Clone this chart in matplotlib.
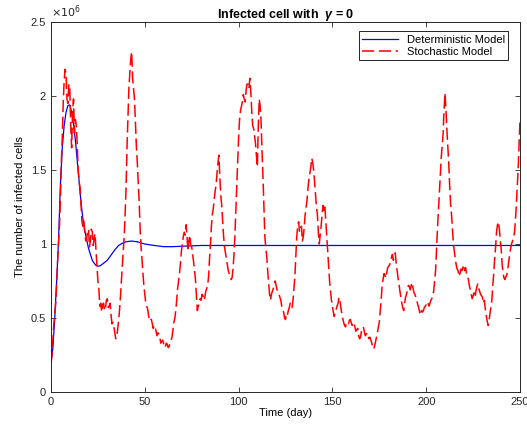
import numpy as np
import matplotlib
matplotlib.use('Agg')
import matplotlib.pyplot as plt
from matplotlib.ticker import FuncFormatter

plt.rcParams['font.family'] = ['Liberation Sans', 'DejaVu Sans']
plt.rcParams['mathtext.fontset'] = 'custom'
plt.rcParams['mathtext.it'] = 'Liberation Sans:italic:bold'

# deterministic model (x1e6 cells)
det_day = [0, 1, 2, 3, 4, 5, 6, 7, 8, 9, 10, 11, 12, 13, 14, 15, 16, 17, 18, 19,
           20, 21, 22, 23, 24, 25, 26, 27, 28, 30, 32, 34, 36, 38, 40, 43, 46,
           50, 55, 60, 65, 70, 80, 100, 250]
det_val = [0.20, 0.30, 0.50, 0.75, 1.02, 1.40, 1.65, 1.80, 1.89, 1.935, 1.94,
           1.89, 1.81, 1.70, 1.56, 1.42, 1.28, 1.17, 1.09, 1.03, 0.97, 0.93,
           0.89, 0.87, 0.855, 0.85, 0.852, 0.86, 0.87, 0.89, 0.925, 0.96, 0.99,
           1.005, 1.015, 1.02, 1.015, 1.0, 0.99, 0.982, 0.982, 0.985, 0.99,
           0.99, 0.99]

# stochastic model, value at each whole day (x1e6 cells)
sto_val = [0.19, 0.35, 0.53, 0.72, 1.00, 1.30, 1.72, 2.10, 2.15, 1.95,
           2.05, 1.65, 1.98, 1.84, 1.66, 1.42, 1.26, 1.12, 1.08, 1.03,
           1.10, 1.02, 1.08, 1.04, 0.95, 0.75, 0.58, 0.54, 0.60, 0.56,
           0.63, 0.58, 0.52, 0.47, 0.40, 0.37, 0.48, 0.64, 0.85, 1.05,
           1.38, 1.85, 2.15, 2.30, 2.05, 1.82, 1.55, 1.28, 0.98, 0.80,
           0.66, 0.58, 0.52, 0.49, 0.46, 0.45, 0.41, 0.40, 0.37, 0.34,
           0.33, 0.31, 0.32, 0.31, 0.35, 0.42, 0.50, 0.62, 0.75, 0.87,
           1.00, 1.08, 1.13, 0.95, 1.06, 0.98, 0.88, 0.76, 0.55, 0.60,
           0.62, 0.65, 0.64, 0.70, 0.78, 1.00, 1.20, 1.30, 1.40, 1.55,
           1.45, 1.26, 1.05, 0.94, 0.86, 0.80, 0.76, 0.83, 1.05, 1.40,
           1.72, 1.90, 1.96, 1.98, 2.04, 2.08, 2.12, 1.90, 1.78, 1.68,
           1.52, 1.98, 1.82, 1.45, 1.05, 0.92, 0.74, 0.62, 0.68, 0.72,
           0.72, 0.68, 0.64, 0.58, 0.54, 0.49, 0.52, 0.57, 0.59, 0.62,
           0.78, 1.05, 1.15, 1.10, 1.02, 1.12, 1.25, 1.38, 1.48, 1.58,
           1.50, 1.33, 1.20, 1.00, 1.12, 1.26, 1.25, 1.04, 0.84, 0.68,
           0.58, 0.51, 0.56, 0.60, 0.62, 0.53, 0.47, 0.44, 0.46, 0.48,
           0.47, 0.46, 0.44, 0.42, 0.38, 0.37, 0.43, 0.41, 0.39, 0.38,
           0.37, 0.33, 0.29, 0.34, 0.40, 0.47, 0.62, 0.76, 0.79, 0.81,
           0.85, 0.88, 0.93, 0.92, 0.87, 0.77, 0.68, 0.60, 0.55, 0.64,
           0.69, 0.71, 0.72, 0.70, 0.66, 0.62, 0.57, 0.52, 0.54, 0.57,
           0.59, 0.60, 0.60, 0.63, 0.68, 0.82, 1.10, 1.35, 1.58, 1.74,
           2.02, 1.78, 1.55, 1.27, 1.10, 0.95, 0.86, 0.82, 0.80, 0.82,
           0.86, 0.84, 0.79, 0.72, 0.66, 0.65, 0.64, 0.71, 0.70, 0.66,
           0.64, 0.62, 0.52, 0.45, 0.53, 0.62, 0.80, 0.98, 1.13, 1.10,
           0.96, 0.80, 0.76, 0.79, 0.88, 0.97, 1.02, 1.07, 1.25, 1.50,
           1.84]
# stochastic model, value read at each half day (day + 0.5)
sto_mid = [0.25, 0.46, 0.60, 0.88, 1.12, 1.55, 1.95, 2.18, 1.98, 2.08,
           1.80, 1.90, 1.75, 1.80, 1.50, 1.38, 1.15, 1.16, 1.02, 1.09,
           0.98, 1.10, 0.99, 1.07, 0.85, 0.70, 0.60, 0.59, 0.55, 0.62,
           0.57, 0.60, 0.46, 0.44, 0.36, 0.42, 0.55, 0.75, 0.95, 1.20,
           1.65, 2.05, 2.25, 2.12, 1.98, 1.66, 1.42, 1.10, 0.90, 0.72,
           0.60, 0.56, 0.48, 0.49, 0.43, 0.44, 0.38, 0.39, 0.33, 0.35,
           0.30, 0.33, 0.30, 0.33, 0.37, 0.47, 0.55, 0.70, 0.80, 0.95,
           1.05, 1.06, 1.05, 1.02, 0.99, 0.93, 0.82, 0.66, 0.58, 0.63,
           0.66, 0.62, 0.68, 0.72, 0.90, 1.12, 1.24, 1.36, 1.48, 1.60,
           1.33, 1.15, 0.98, 0.90, 0.82, 0.79, 0.77, 0.92, 1.22, 1.58,
           1.84, 1.93, 2.01, 1.96, 2.08, 2.05, 2.03, 1.80, 1.73, 1.60,
           1.80, 1.93, 1.62, 1.25, 0.97, 0.82, 0.66, 0.66, 0.70, 0.75,
           0.69, 0.66, 0.62, 0.55, 0.50, 0.53, 0.55, 0.60, 0.57, 0.70,
           0.92, 1.12, 1.08, 1.12, 1.05, 1.20, 1.30, 1.44, 1.52, 1.55,
           1.42, 1.25, 1.08, 1.06, 1.20, 1.22, 1.15, 0.94, 0.75, 0.62,
           0.54, 0.55, 0.58, 0.64, 0.57, 0.50, 0.45, 0.47, 0.46, 0.49,
           0.45, 0.47, 0.41, 0.43, 0.36, 0.41, 0.44, 0.38, 0.40, 0.36,
           0.35, 0.30, 0.31, 0.37, 0.44, 0.55, 0.72, 0.80, 0.77, 0.84,
           0.86, 0.91, 0.89, 0.94, 0.82, 0.73, 0.64, 0.57, 0.60, 0.66,
           0.72, 0.69, 0.74, 0.67, 0.64, 0.59, 0.54, 0.55, 0.55, 0.58,
           0.61, 0.58, 0.62, 0.66, 0.75, 0.96, 1.22, 1.46, 1.66, 1.90,
           1.92, 1.66, 1.40, 1.20, 1.00, 0.90, 0.83, 0.78, 0.83, 0.84,
           0.82, 0.80, 0.76, 0.69, 0.63, 0.67, 0.68, 0.73, 0.68, 0.65,
           0.60, 0.56, 0.48, 0.48, 0.57, 0.72, 0.90, 1.08, 1.15, 1.03,
           0.86, 0.77, 0.78, 0.83, 0.93, 1.00, 1.04, 1.15, 1.38, 1.68]

# merge whole-day and half-day readings in time order
days = np.arange(len(sto_val), dtype=float)
t = np.empty(len(sto_val) + len(sto_mid))
y = np.empty_like(t)
t[0::2] = days
t[1::2] = days[:-1] + 0.5
y[0::2] = sto_val
y[1::2] = sto_mid

fig = plt.figure(figsize=(5.27, 4.26), dpi=100)
ax = fig.add_axes([0.0968, 0.0798, 0.8899, 0.8686])

ax.plot(det_day, det_val, color='#0000ff', lw=0.9, label='Deterministic Model')
ax.plot(t, y, color='#ff0000', lw=1.1, linestyle=(0, (8, 3)),
        label='Stochastic Model')

ax.set_xlim(0, 250)
ax.set_ylim(0, 2.5)
ax.set_xticks([0, 50, 100, 150, 200, 250])
ax.set_yticks([0, 0.5, 1, 1.5, 2, 2.5])
ax.yaxis.set_major_formatter(FuncFormatter(lambda v, p: '%g' % v))
ax.tick_params(direction='in', top=True, right=True, labelsize=8,
               colors='#262626', length=3.5, width=0.6)
for s in ax.spines.values():
    s.set_color('#262626')
    s.set_linewidth(0.7)

ax.text(0.0, 1.005, r'$\times 10^6$', transform=ax.transAxes, fontsize=8,
        color='#262626', ha='left', va='bottom')
ax.set_xlabel('Time (day)', fontsize=8, labelpad=1)
ax.set_ylabel('The number of infected cells', fontsize=8, labelpad=4)
ax.set_title(r'Infected cell with  $\gamma$ = 0', fontsize=9, fontweight='bold', pad=3)

leg = ax.legend(loc='upper right', bbox_to_anchor=(0.975, 0.975), borderaxespad=0,
                fontsize=8, fancybox=False, edgecolor='black', framealpha=1,
                handlelength=3.2, borderpad=0.3, labelspacing=0.2)
leg.get_frame().set_linewidth(0.6)

fig.savefig('out.png', dpi=100)
